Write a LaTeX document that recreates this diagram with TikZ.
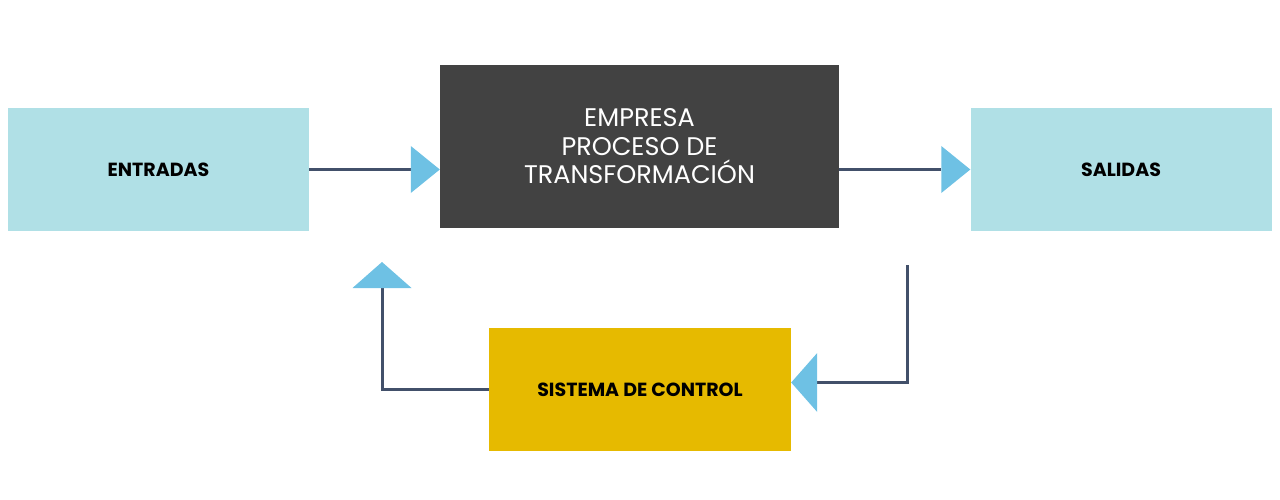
\documentclass[tikz,border=0pt]{standalone}
\usepackage{fontspec}
\setmainfont{Poppins}
\usepackage{xcolor}
\usetikzlibrary{arrows.meta,positioning,calc}

\definecolor{boxcyan}{HTML}{B0E0E6}
\definecolor{boxdark}{HTML}{424242}
\definecolor{boxgold}{HTML}{E6BA00}
\definecolor{tipblue}{HTML}{6EC1E4}
\definecolor{linkgray}{HTML}{42506A}

\begin{document}
\begin{tikzpicture}[
    x=1pt, y=-1pt,
    io/.style={rectangle, minimum width=301pt, minimum height=123pt, align=center, fill=boxcyan, font=\fontsize{19}{22}\selectfont\bfseries},
    proc/.style={rectangle, minimum width=399pt, minimum height=163pt, align=center, fill=boxdark, text=white, font=\fontsize{25.5}{28.5}\selectfont},
    ctrl/.style={rectangle, minimum width=302pt, minimum height=123pt, align=center, fill=boxgold, font=\fontsize{19}{22}\selectfont\bfseries},
    flow/.style={draw=linkgray, line width=3pt, -{Triangle[length=29pt, width=47pt, color=tipblue, fill=tipblue, line width=0pt]}},
    back/.style={draw=linkgray, line width=3pt, -{Triangle[length=26pt, width=59pt, color=tipblue, fill=tipblue, line width=0pt]}}
]
    \useasboundingbox (0,0) rectangle (1280,500);

    \node[io] (entradas) at (158.5,169.5) {ENTRADAS};
    \node[proc] (empresa) at (639.5,146.5) {EMPRESA\\PROCESO DE\\TRANSFORMACIÓN};
    \node[io] (salidas) at (1121,169.5) {SALIDAS};
    \node[ctrl] (sistema) at (640,389.5) {SISTEMA DE CONTROL};

    \coordinate (medida) at (907,265);
    \coordinate (ajuste) at (382,262);

    \draw[flow] (entradas.east) -- (entradas.east -| empresa.west);
    \draw[flow] (empresa.east |- salidas.west) -- (salidas.west);
    \draw[back] (medida) |- ([yshift=7pt]sistema.east);
    \draw[back] (sistema.west) -| (ajuste);
\end{tikzpicture}
\end{document}
